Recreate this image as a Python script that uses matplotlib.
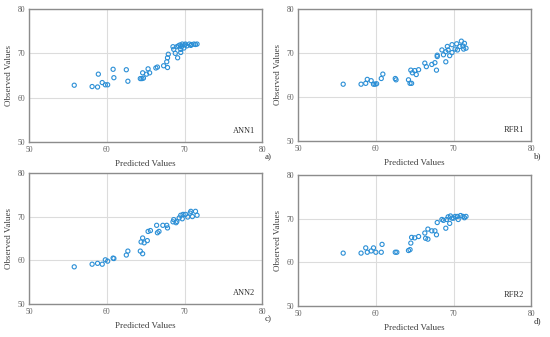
import matplotlib
matplotlib.use("Agg")
import matplotlib.pyplot as plt

plt.rcParams["font.family"] = ["Liberation Serif", "DejaVu Serif"]

# ANN1
ann1_x = [55.8, 58.1, 58.8, 58.9, 59.4, 59.8, 60.1, 60.8, 60.9, 62.5, 62.7, 64.3, 64.5,
          64.6, 64.7, 65.1, 65.3, 65.5, 66.3, 66.5, 67.3, 67.7, 67.8, 67.9, 67.8, 68.5,
          68.6, 68.8, 69.0, 69.1, 69.4, 69.5, 69.5, 69.7, 69.9, 70.1, 70.3, 70.6, 70.8,
          71.2, 71.6, 69.2, 69.6, 70.0, 70.9, 71.4]
ann1_y = [62.8, 62.5, 62.4, 65.3, 63.4, 62.9, 62.9, 66.4, 64.5, 66.3, 63.7, 64.3, 64.3,
          65.6, 64.4, 65.3, 66.5, 65.6, 66.7, 66.9, 67.2, 68.1, 69.0, 69.8, 66.8, 71.5,
          70.9, 70.0, 71.5, 69.0, 71.9, 70.9, 70.2, 72.1, 71.2, 72.1, 71.7, 72.1, 71.8,
          72.1, 72.1, 71.7, 71.5, 71.9, 72.0, 72.0]

# RFR1
rfr1_x = [55.8, 58.1, 58.7, 58.9, 59.4, 59.7, 59.9, 60.1, 60.7, 60.9, 62.5, 62.6, 64.2,
          64.4, 64.6, 64.5, 64.7, 65.0, 65.2, 65.5, 66.3, 66.5, 67.2, 67.6, 67.8, 67.9,
          67.9, 68.5, 68.7, 69.0, 69.0, 69.2, 69.3, 69.5, 69.8, 69.8, 70.2, 70.4, 70.5,
          70.8, 71.0, 71.2, 71.4, 71.6, 71.3]
rfr1_y = [62.9, 62.9, 63.1, 64.0, 63.7, 62.9, 62.9, 63.0, 64.2, 65.2, 64.2, 63.9, 63.9,
          63.1, 63.1, 66.1, 65.5, 66.0, 65.1, 66.2, 67.7, 66.9, 67.4, 67.8, 66.1, 69.2,
          69.5, 70.7, 69.6, 68.0, 70.3, 71.5, 70.7, 69.4, 71.9, 70.1, 70.9, 72.1, 70.7,
          71.5, 72.7, 71.6, 72.2, 71.1, 70.9]

# ANN2
ann2_x = [55.8, 58.1, 58.8, 59.4, 59.8, 60.1, 60.8, 60.9, 62.5, 62.7, 64.3, 64.6, 64.4,
          64.6, 64.8, 65.2, 65.3, 65.6, 66.4, 66.5, 66.7, 67.2, 67.7, 67.8, 68.5, 68.6,
          68.9, 69.0, 69.3, 69.5, 69.7, 69.8, 70.1, 70.4, 70.7, 70.8, 71.0, 71.4, 71.6]
ann2_y = [58.5, 59.1, 59.3, 59.1, 60.1, 59.8, 60.5, 60.4, 61.2, 62.1, 62.1, 61.5, 64.2,
          65.1, 64.0, 64.5, 66.6, 66.8, 68.0, 66.3, 66.6, 68.0, 68.0, 67.4, 68.8, 69.3,
          68.6, 68.9, 69.7, 70.3, 69.5, 70.5, 70.5, 69.9, 70.8, 71.2, 70.0, 71.2, 70.3]

# RFR2
rfr2_x = [55.8, 58.1, 58.7, 58.9, 59.4, 59.7, 60.0, 60.7, 60.8, 62.5, 62.7, 64.2, 64.4,
          64.5, 64.6, 65.0, 65.5, 66.3, 66.4, 66.7, 66.7, 67.2, 67.6, 67.8, 67.9, 68.5,
          68.7, 69.0, 69.1, 69.3, 69.5, 69.6, 69.8, 70.0, 70.2, 70.5, 70.6, 70.9, 71.2,
          71.4, 71.6]
rfr2_y = [62.1, 62.1, 63.3, 62.3, 62.6, 63.3, 62.3, 62.3, 64.1, 62.3, 62.3, 62.7, 62.9,
          64.4, 65.7, 65.6, 65.9, 66.7, 65.5, 65.3, 67.6, 67.2, 67.2, 66.3, 69.1, 69.8,
          69.6, 67.8, 69.8, 70.4, 68.9, 70.6, 70.1, 70.1, 70.5, 70.5, 69.8, 70.7, 70.5,
          70.2, 70.5]

panels = [
    ("ANN1", "a)", ann1_x, ann1_y, [0.053, 0.579, 0.424, 0.394]),
    ("RFR1", "b)", rfr1_x, rfr1_y, [0.542, 0.582, 0.424, 0.391]),
    ("ANN2", "c)", ann2_x, ann2_y, [0.053, 0.098, 0.424, 0.389]),
    ("RFR2", "d)", rfr2_x, rfr2_y, [0.542, 0.092, 0.424, 0.389]),
]

ticks = [50, 60, 70, 80]
dot_color = "#2b8fd6"

fig = plt.figure(figsize=(5.5, 3.37), dpi=100)
for name, tag, xs, ys, pos in panels:
    ax = fig.add_axes(pos)
    ax.scatter(xs, ys, s=9, facecolors="none", edgecolors=dot_color, linewidths=0.8, zorder=3)
    ax.set_xlim(50, 80)
    ax.set_ylim(50, 80)
    ax.set_xticks(ticks)
    ax.set_yticks(ticks)
    ax.grid(True, color="#dcdcdc", linewidth=0.8)
    ax.set_axisbelow(True)
    ax.tick_params(length=0, labelsize=5.5, labelcolor="#606060", pad=3)
    for sp in ax.spines.values():
        sp.set_color("#8c8c8c")
        sp.set_linewidth(1.0)
    ax.set_xlabel("Predicted Values", fontsize=6.5, color="#404040", labelpad=4)
    ax.set_ylabel("Observed Values", fontsize=6.5, color="#404040", labelpad=3)
    ax.text(0.97, 0.05, name, transform=ax.transAxes, ha="right", va="bottom",
            fontsize=6, color="#303030")
    fig.text(pos[0] + pos[2] + 0.005, pos[1] - 0.045, tag, fontsize=6.5,
             color="#303030", ha="left", va="center")

plt.savefig("out.png", dpi=100)
